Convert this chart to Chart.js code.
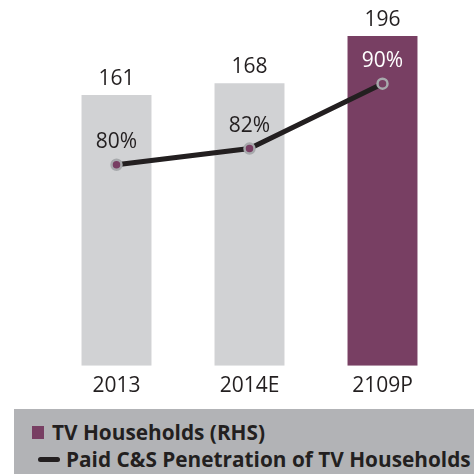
<!DOCTYPE html>
<html>
<head>
<meta charset="utf-8">
<script src="https://cdn.jsdelivr.net/npm/chart.js@4"></script>
<style>
  body { margin: 0; background: #fff; }
  #wrap { position: relative; width: 474px; height: 474px; }
  #chartBox { position: absolute; left: 0; top: 0; width: 474px; height: 399px; }
  #legend {
    position: absolute; left: 14px; top: 409px; width: 460px; height: 65px;
    background: #b2b3b6; font-family: "Open Sans", sans-serif; font-weight: 700;
    font-size: 20.8px; color: #231f20;
  }
  .item { position: absolute; white-space: nowrap; line-height: 26px; }
  .swatch { display: inline-block; vertical-align: middle; }
</style>
</head>
<body>
<div id="wrap">
  <div id="chartBox"><canvas id="tvChart"></canvas></div>
  <div id="legend"></div>
</div>
<script>
const years = ["2013", "2014E", "2109P"];
const households = [161, 168, 196];
const penetration = [80, 82, 90];
const barColors = ["#d1d2d4", "#d1d2d4", "#783f63"];
const pctColors = ["#231f20", "#231f20", "#ffffff"];

const barLabel = "TV Households (RHS)";
const lineLabel = "Paid C&S Penetration of TV Households";

Chart.defaults.font.family = "'Open Sans', sans-serif";

// draws the numbers above bars and points
const valueLabels = {
  id: "valueLabels",
  afterDatasetsDraw(chart) {
    let ctx = chart.ctx;
    ctx.save();
    ctx.font = "21px 'Open Sans', sans-serif";
    ctx.textAlign = "center";
    ctx.textBaseline = "middle";

    chart.getDatasetMeta(1).data.forEach((el, i) => {
      ctx.fillStyle = "#231f20";
      ctx.fillText(households[i], el.x, el.y - 16);
    });

    chart.getDatasetMeta(0).data.forEach((el, i) => {
      ctx.fillStyle = pctColors[i];
      ctx.fillText(penetration[i] + "%", el.x, el.y - 23);
    });
    ctx.restore();
  },
};

let ctx = document.getElementById("tvChart").getContext("2d");

new Chart(ctx, {
  data: {
    labels: years,
    datasets: [
      {
        type: "line",
        label: lineLabel,
        data: penetration,
        yAxisID: "y1",
        borderColor: "#231f20",
        borderWidth: 5,
        pointRadius: 5,
        pointBackgroundColor: "#783f63",
        pointBorderColor: "#a7a9ac",
        pointBorderWidth: 2.5,
        tension: 0,
        order: 0,
      },
      {
        type: "bar",
        label: barLabel,
        data: households,
        yAxisID: "y",
        backgroundColor: barColors,
        barPercentage: 0.526,
        categoryPercentage: 1,
        order: 1,
      },
    ],
  },
  options: {
    responsive: true,
    maintainAspectRatio: false,
    animation: false,
    layout: {
      padding: { left: 50, right: 25, top: 0, bottom: 0 },
    },
    plugins: {
      legend: { display: false },
      tooltip: { enabled: false },
    },
    scales: {
      x: {
        grid: { display: false },
        border: { display: false },
        ticks: {
          color: "#231f20",
          padding: 0,
          font: { size: 21 },
        },
      },
      y: {
        display: false,
        min: 0,
        max: 213,
      },
      y1: {
        display: false,
        min: 55.2,
        max: 99.4,
      },
    },
  },
  plugins: [valueLabels],
});

// legend built from the dataset labels
let legend = document.getElementById("legend");
legend.innerHTML =
  '<div class="item" style="left:18px;top:10px">' +
  '<span class="swatch" style="width:12px;height:13px;background:#783f63;margin-right:8px;margin-top:-3px"></span>' +
  barLabel + "</div>" +
  '<div class="item" style="left:24px;top:37px">' +
  '<span class="swatch" style="width:22px;height:5px;border-radius:3px;background:#231f20;margin-right:6px;margin-top:-3px"></span>' +
  lineLabel + "</div>";
</script>
</body>
</html>
